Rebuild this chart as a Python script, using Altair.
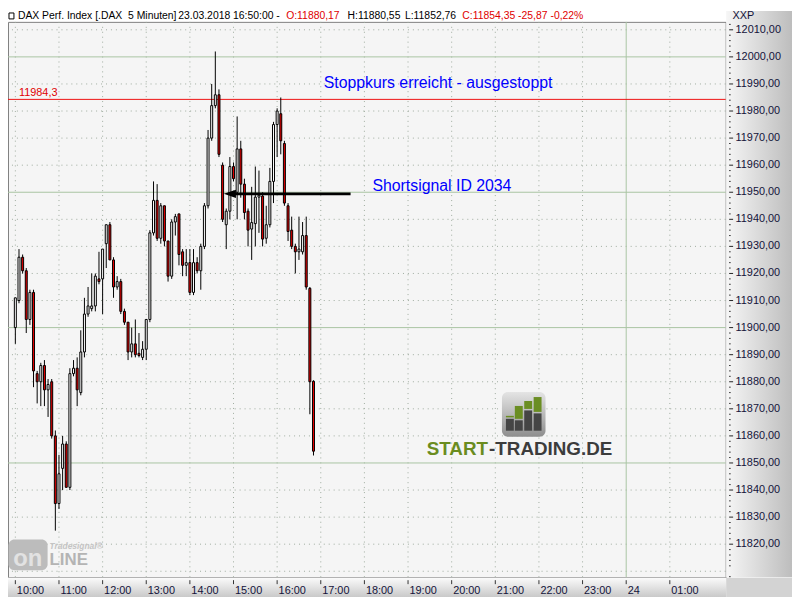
import altair as alt
import pandas as pd

# ---------------- data (DAX 5-minute candles, 23.03.2018 10:00 - 16:50) ----------------
open_ = [11900, 11910, 11926, 11921, 11903, 11913, 11883, 11880, 11886, 11877,
         11880, 11860, 11835, 11848, 11857, 11841, 11883, 11885, 11876, 11891,
         11905, 11907, 11908, 11918, 11918, 11931, 11938, 11925, 11915, 11917,
         11906, 11902, 11891, 11894, 11890.5, 11889, 11892, 11903, 11935, 11947,
         11933, 11945, 11932, 11919, 11939, 11942, 11928, 11923, 11924, 11913,
         11924, 11921, 11930, 11945, 11970, 11982, 11986, 11960, 11938, 11943,
         11959.5, 11950, 11966, 11953, 11943, 11936.4, 11938.4, 11948.2, 11948.6, 11933,
         11938, 11954, 11975, 11979, 11968, 11945, 11936, 11930, 11928, 11928,
         11934, 11914.5, 11880.17]
high = [11911, 11929, 11927, 11922, 11914, 11914, 11884, 11887, 11888, 11881,
        11881, 11862, 11853, 11860, 11858, 11885, 11888, 11889, 11899, 11911,
        11915, 11920, 11920, 11928, 11929, 11938, 11939, 11926, 11919, 11918,
        11907, 11902, 11900, 11903, 11898, 11895, 11903, 11936, 11954, 11953,
        11946, 11945, 11932, 11940, 11942, 11942, 11929, 11929, 11929, 11929,
        11926, 11931, 11946, 11973, 11990, 12002, 11988, 11961, 11944, 11963,
        11961, 11978, 11969, 11955, 11944, 11952, 11959.5, 11958, 11950, 11945,
        11959, 11976, 11981, 11985, 11969, 11946, 11941, 11931, 11941, 11939,
        11941, 11915, 11880.55]
low = [11894, 11909, 11920, 11898, 11901, 11878, 11872, 11871, 11871, 11867,
       11859, 11825, 11833, 11840, 11841, 11840, 11882, 11871, 11875, 11889,
       11904, 11906, 11906, 11916, 11905, 11922, 11925, 11911, 11914, 11905,
       11901, 11888, 11889, 11889, 11889, 11888, 11888, 11902, 11934, 11932,
       11931, 11930, 11917, 11918, 11934, 11923, 11919, 11919, 11912, 11912,
       11920, 11914, 11929, 11944, 11969, 11981, 11963, 11939, 11929, 11940,
       11954, 11940, 11948, 11940, 11930, 11925, 11930, 11935, 11930, 11931,
       11937, 11946, 11963, 11964, 11945, 11932, 11929, 11920, 11925, 11927,
       11914, 11868, 11852.76]
close = [11911, 11926, 11921, 11903, 11913, 11884, 11880, 11886, 11877, 11879,
         11860, 11835, 11846, 11857, 11841, 11883, 11885, 11877, 11891, 11905,
         11908, 11908, 11919, 11917, 11929, 11938, 11925, 11915, 11917, 11906,
         11902, 11891, 11894, 11890, 11889.7, 11892, 11903, 11935, 11947, 11933,
         11945, 11932, 11919, 11939, 11941, 11927, 11923, 11924, 11913, 11924,
         11921, 11930, 11945, 11970, 11982, 11986, 11964, 11940, 11943, 11959.5,
         11955, 11966, 11953, 11942.5, 11936, 11938.8, 11948.2, 11948.9, 11932.7, 11938,
         11954, 11975, 11980, 11969, 11946, 11935.5, 11930, 11928, 11929, 11934,
         11915, 11880, 11854.35]

minutes = [5 * i for i in range(len(close))]          # minutes after 10:00
hour_ticks = list(range(0, 901, 60))                   # 10:00 ... 01:00
hour_labels = ["10:00", "11:00", "12:00", "13:00", "14:00", "15:00", "16:00", "17:00",
               "18:00", "19:00", "20:00", "21:00", "22:00", "23:00", "24", "01:00"]
midnight = [840]
hour_grid = [h for h in hour_ticks if h not in midnight]
price_ticks = list(range(11820, 12011, 10))
price_minor = [v for v in range(11808, 12013, 2) if v % 10 != 0]
price_major = [11850, 11900, 11950, 12000]
price_grid = [v for v in range(11810, 12011, 10) if v not in price_major]

stop_level = [11984.3]
stop_label = ["11984,3"]
stop_text = ["Stoppkurs erreicht - ausgestoppt"]
signal_text = ["Shortsignal ID 2034"]
signal_level = [11949.4]
signal_from = [295.0]
signal_to = [461.0]

header_parts = ["DAX Perf. Index [.DAX\u00a0\u00a05 Minuten]", "23.03.2018 16:50:00 -",
                "O:11880,17", "H:11880,55", "L:11852,76", "C:11854,35 -25,87 -0,22%"]

candles = pd.DataFrame({"m": minutes, "o": open_, "h": high, "l": low, "c": close})
candles["dir"] = ["down" if c < o else "up" for o, c in zip(open_, close)]

FONT = "Liberation Sans"
AXIS_COLOR = "#13133a"
xs = alt.Scale(domain=[-3.3, 970], nice=False, zero=False)
ys = alt.Scale(domain=[11807.8, 12012.93], nice=False, zero=False)
one = pd.DataFrame({"k": [0]})


def box(x1, x2, y1, y2, **kw):
    return alt.Chart(one).mark_rect(**kw).encode(
        x=alt.value(x1), x2=alt.value(x2), y=alt.value(y1), y2=alt.value(y2))


def label(txt, x, y, **kw):
    return alt.Chart(one).mark_text(text=txt, font=FONT, **kw).encode(
        x=alt.value(x), y=alt.value(y))


# ---------------- grid ----------------
grid_h = alt.Chart(pd.DataFrame({"v": price_grid})).mark_rule(
    color="#9eab9e", strokeDash=[1, 4], strokeWidth=1).encode(
    y=alt.Y("v:Q", scale=ys, axis=None))
grid_v = alt.Chart(pd.DataFrame({"m": hour_grid})).mark_rule(
    color="#9eab9e", strokeDash=[1, 4], strokeWidth=1).encode(
    x=alt.X("m:Q", scale=xs, axis=None))
major_h = alt.Chart(pd.DataFrame({"v": price_major})).mark_rule(
    color="#a9c4a3", strokeWidth=1).encode(y=alt.Y("v:Q", scale=ys, axis=None))
major_v = alt.Chart(pd.DataFrame({"m": midnight})).mark_rule(
    color="#a9c4a3", strokeWidth=1).encode(x=alt.X("m:Q", scale=xs, axis=None))

# ---------------- watermarks ----------------
grad_icon = {"gradient": "linear", "x1": 0, "y1": 0, "x2": 0, "y2": 1,
             "stops": [{"offset": 0, "color": "#e4e4e4"}, {"offset": 1, "color": "#8e8e8e"}]}
icon = [box(499, 543, 374, 419, fill=grad_icon, cornerRadius=6)]
icon_bars = [(503, 511, 398, 399.5), (512, 520, 388, 401), (521.5, 529.5, 383, 391), (531, 539, 379, 394)]
for x1, x2, gtop, dtop in icon_bars:
    icon.append(box(x1, x2, gtop, dtop, fill="#6b8e23"))
    icon.append(box(x1, x2, dtop + 1.5, 413, fill="#454545"))
logo_st = [
    label("START", 423, 432, align="left", baseline="middle", fontSize=19,
          fontWeight="bold", color="#6a8c1f"),
    label("-TRADING.DE", 486, 432, align="left", baseline="middle", fontSize=19,
          fontWeight="bold", color="#3c3c3c"),
]
logo_ts = [
    box(0.5, 40, 523, 554, fill="#bcbcbc", cornerRadius=6),
    label("on", 20, 543, align="center", baseline="middle", fontSize=24,
          fontWeight="bold", color="#e2e2e2"),
    label("LINE", 42, 544, align="left", baseline="middle", fontSize=17,
          fontWeight="bold", color="#b4b4b4"),
    label("Tradesignal\u00ae", 42, 529, align="left", baseline="middle", fontSize=8.5,
          fontWeight="bold", fontStyle="italic", color="#c4c4c4"),
]

# ---------------- stop line ----------------
stop_df = pd.DataFrame({"v": stop_level, "t": stop_label, "m": [5.0]})
stop_rule = alt.Chart(stop_df).mark_rule(color="#ee1111", strokeWidth=1).encode(
    y=alt.Y("v:Q", scale=ys, axis=None))
stop_lbl = alt.Chart(stop_df).mark_text(
    align="left", baseline="bottom", dy=-1, font=FONT, fontSize=11, color="#e00000").encode(
    x=alt.X("m:Q", scale=xs, axis=None), y=alt.Y("v:Q", scale=ys, axis=None), text="t:N")

# ---------------- candles ----------------
wicks = alt.Chart(candles).mark_rule(color="black", strokeWidth=1).encode(
    x=alt.X("m:Q", scale=xs, axis=None),
    y=alt.Y("l:Q", scale=ys, axis=None),
    y2="h:Q",
)
bodies = alt.Chart(candles).mark_bar(size=2, stroke="black", strokeWidth=1).encode(
    x=alt.X("m:Q", scale=xs, axis=None),
    y=alt.Y("o:Q", scale=ys, axis=None),
    y2="c:Q",
    fill=alt.Fill("dir:N", scale=alt.Scale(domain=["up", "down"], range=["#ffffff", "#e60000"]),
                  legend=None),
)

# ---------------- signal arrow & annotations ----------------
sig_df = pd.DataFrame({"m": signal_from, "m2": signal_to, "v": signal_level})
sig_line = alt.Chart(sig_df).mark_rule(color="black", strokeWidth=3).encode(
    x=alt.X("m:Q", scale=xs, axis=None), x2="m2:Q", y=alt.Y("v:Q", scale=ys, axis=None))
sig_head = alt.Chart(sig_df).mark_point(
    shape="M-1,0L1,-0.7L1,0.7Z", size=150, filled=True, color="black", opacity=1).encode(
    x=alt.X("m:Q", scale=xs, axis=None), y=alt.Y("v:Q", scale=ys, axis=None))

ann_df = pd.DataFrame({"m": [424.0, 491.0], "v": [11990.3, 11952.2],
                       "t": stop_text + signal_text})
ann = alt.Chart(ann_df).mark_text(
    align="left", baseline="middle", font=FONT, fontSize=16, color="#0000ff").encode(
    x=alt.X("m:Q", scale=xs, axis=None), y=alt.Y("v:Q", scale=ys, axis=None), text="t:N")

# ---------------- frame panels ----------------
grad_right = {"gradient": "linear", "x1": 0, "y1": 0, "x2": 1, "y2": 0,
              "stops": [{"offset": 0, "color": "#f6f6f6"}, {"offset": 1, "color": "#bdbdbd"}]}
grad_bottom = {"gradient": "linear", "x1": 0, "y1": 0, "x2": 0, "y2": 1,
               "stops": [{"offset": 0, "color": "#fbfbfb"}, {"offset": 1, "color": "#c9c9c9"}]}
panels = [
    box(725.5, 792, -11, 561, fill=grad_right),
    box(0, 725.5, 561.5, 581, fill=grad_bottom),
    box(725.5, 792, 561.5, 581, fill="#d3d3d3"),
]

# ---------------- axes (price axis right, time axis bottom) ----------------
minor_ticks = alt.Chart(pd.DataFrame({"v": price_minor})).mark_rule(
    color="#222222", strokeWidth=1).encode(
    x=alt.value(728.5), x2=alt.value(730), y=alt.Y("v:Q", scale=ys, axis=None))
price_df = pd.DataFrame({"v": price_ticks})
major_ticks = alt.Chart(price_df).mark_rule(color="#222222", strokeWidth=1).encode(
    x=alt.value(728.5), x2=alt.value(732.5), y=alt.Y("v:Q", scale=ys, axis=None))
price_lbls = alt.Chart(price_df).transform_calculate(
    t="replace(format(datum.v, '.2f'), '.', ',')"
).mark_text(align="left", baseline="middle", font=FONT, fontSize=11, color=AXIS_COLOR).encode(
    x=alt.value(735), y=alt.Y("v:Q", scale=ys, axis=None), text="t:N")

time_df = pd.DataFrame({"m": hour_ticks, "t": hour_labels})
time_ticks = alt.Chart(time_df).mark_rule(color="#333333", strokeWidth=1).encode(
    x=alt.X("m:Q", scale=xs, axis=None), y=alt.value(564), y2=alt.value(568))
time_lbls = alt.Chart(time_df).mark_text(
    align="left", baseline="top", dx=1.5, font=FONT, fontSize=11, color=AXIS_COLOR).encode(
    x=alt.X("m:Q", scale=xs, axis=None), y=alt.value(569), text="t:N")

header_x = [10, 172, 281, 343, 401, 459]
header_c = ["#000000", "#000000", "#e00000", "#000000", "#000000", "#e00000"]
header = [label(t, x, -5.5, align="left", baseline="middle", fontSize=10.5, color=c)
          for t, x, c in zip(header_parts, header_x, header_c)]
header.append(box(1, 6, -9, -3, fillOpacity=0, stroke="black", strokeWidth=1))
header.append(label("XXP", 732, -5.5, align="left", baseline="middle", fontSize=11,
                    color=AXIS_COLOR))

layers = ([grid_h, grid_v, major_h, major_v] + icon + logo_st + logo_ts +
          [stop_rule, wicks, bodies, sig_line, sig_head, ann, stop_lbl] + panels +
          [minor_ticks, major_ticks, price_lbls, time_ticks, time_lbls] + header)

chart = alt.layer(*layers).properties(
    width=725, height=561,
    autosize=alt.AutoSizeParams(type="none"),
    padding={"left": 0, "top": 11, "right": 67, "bottom": 20},
    background="#ffffff",
).configure_view(fill="#f5f5f5", stroke="#7f7f7f", strokeWidth=1)

chart.save("out.html", embed_options={"renderer": "svg", "actions": False})
